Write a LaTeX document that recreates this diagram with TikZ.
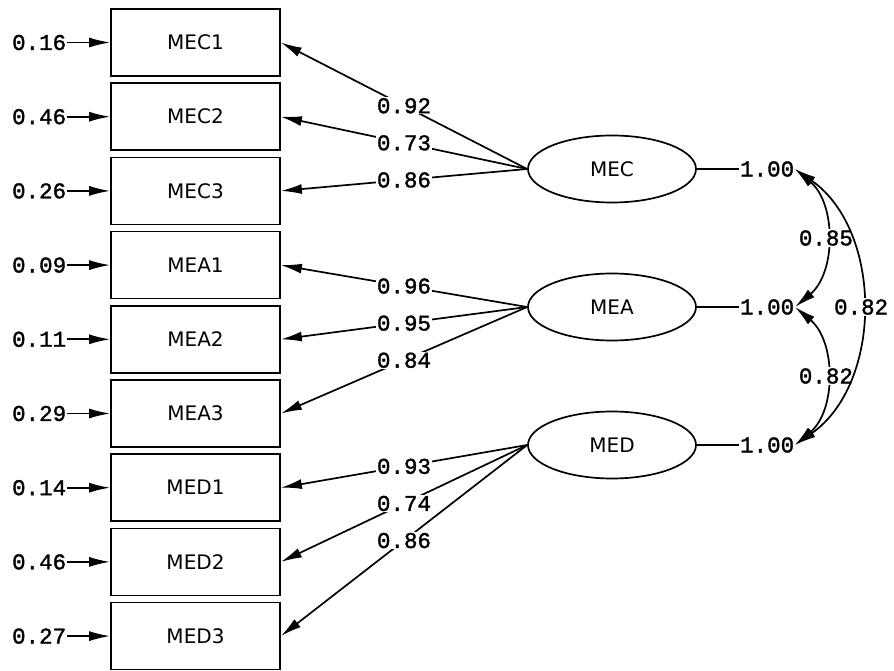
\documentclass[tikz,border=0pt]{standalone}
\usepackage{fontspec}
\setmainfont{DejaVu Sans}
\newfontfamily\numfont[FakeBold=1.5]{Liberation Mono}
\usetikzlibrary{arrows.meta,positioning,shapes.geometric}

\begin{document}
\begin{tikzpicture}[x=1pt, y=-1pt, line width=1.7pt,
    item/.style={draw, minimum width=169pt, minimum height=67pt, font=\fontsize{20}{24}\selectfont},
    factor/.style={draw, ellipse, minimum width=168pt, minimum height=67pt, inner sep=0pt, font=\fontsize{20}{24}\selectfont},
    num/.style={fill=white, inner sep=1pt, font=\numfont\fontsize{22.5}{26}\selectfont},
    tip/.style={-{Latex[length=21pt,width=10pt]}},
    cov/.style={{Latex[length=21pt,width=10pt]}-{Latex[length=21pt,width=10pt]}}]
    \useasboundingbox (0,0) rectangle (894,671);

    % observed items with their error terms
    \foreach \name/\y/\err in {MEC1/42.5/0.16, MEC2/116.7/0.46, MEC3/190.9/0.26,
                               MEA1/265.1/0.09, MEA2/339.3/0.11, MEA3/413.5/0.29,
                               MED1/487.7/0.14, MED2/561.9/0.46, MED3/636.1/0.27} {
        \node[item] (\name) at (195.5, \y) {\name};
        \node[num, anchor=east, inner sep=0pt] (e\name) at (67, \y) {\err};
        \draw[tip] (e\name.east) -- (\name.west);
    }

    % latent factors
    \node[factor] (MEC) at (612, 169) {MEC};
    \node[factor] (MEA) at (612, 307) {MEA};
    \node[factor] (MED) at (612, 445) {MED};

    % loadings
    \draw[tip] (MEC.west) -- node[num]{0.92} (MEC1.east);
    \draw[tip] (MEC.west) -- node[num]{0.73} (MEC2.east);
    \draw[tip] (MEC.west) -- node[num]{0.86} (MEC3.east);
    \draw[tip] (MEA.west) -- node[num]{0.96} (MEA1.east);
    \draw[tip] (MEA.west) -- node[num]{0.95} (MEA2.east);
    \draw[tip] (MEA.west) -- node[num]{0.84} (MEA3.east);
    \draw[tip] (MED.west) -- node[num]{0.93} (MED1.east);
    \draw[tip] (MED.west) -- node[num]{0.74} (MED2.east);
    \draw[tip] (MED.west) -- node[num]{0.86} (MED3.east);

    % factor variances
    \node[num, anchor=east, inner sep=0pt] (vMEC) at (795, 169) {1.00};
    \node[num, anchor=east, inner sep=0pt] (vMEA) at (795, 307) {1.00};
    \node[num, anchor=east, inner sep=0pt] (vMED) at (795, 445) {1.00};
    \draw (MEC.east) -- (vMEC.west);
    \draw (MEA.east) -- (vMEA.west);
    \draw (MED.east) -- (vMED.west);

    % correlations
    \draw[cov] (vMEC.east) to[bend left=50] node[num]{0.85} (vMEA.east);
    \draw[cov] (vMEA.east) to[bend left=50] node[num]{0.82} (vMED.east);
    \draw[cov] (vMEC.east) to[bend left=55] node[num]{0.82} (vMED.east);
\end{tikzpicture}
\end{document}
